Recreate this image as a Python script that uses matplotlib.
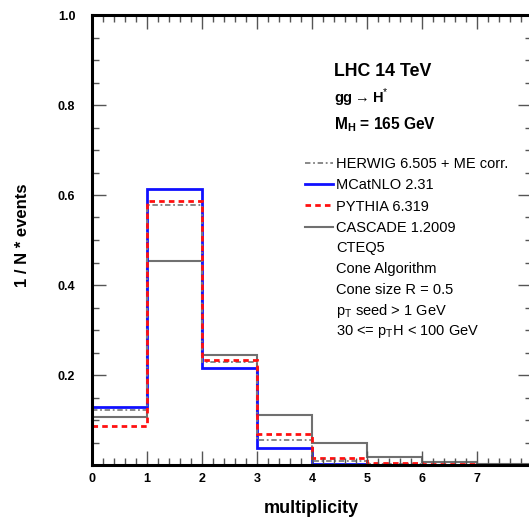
import numpy as np
import matplotlib
matplotlib.use("Agg")
import matplotlib.pyplot as plt
from matplotlib.lines import Line2D
from matplotlib.ticker import MultipleLocator

plt.rcParams['font.family'] = ['Liberation Sans', 'DejaVu Sans']
plt.rcParams['mathtext.fontset'] = 'custom'
plt.rcParams['mathtext.rm'] = 'Liberation Sans'
plt.rcParams['mathtext.bf'] = 'Liberation Sans:bold'

# jet multiplicity bins
edges = np.arange(0, 9)
herwig = [0.122, 0.577, 0.228, 0.056, 0.009, 0.003, 0.001, 0.0005]
mcatnlo = [0.130, 0.613, 0.215, 0.037, 0.002, 0.001, 0.0005, 0.0003]
pythia = [0.087, 0.587, 0.233, 0.068, 0.016, 0.004, 0.002, 0.001]
cascade = [0.107, 0.454, 0.244, 0.111, 0.048, 0.018, 0.007, 0.002]

labels = ['HERWIG 6.505 + ME corr.', 'MCatNLO 2.31', 'PYTHIA 6.319', 'CASCADE 1.2009']
notes = ['CTEQ5', 'Cone Algorithm', 'Cone size R = 0.5',
         r'p$_\mathregular{T}$ seed > 1 GeV',
         r'30 <= p$_\mathregular{T}$H < 100 GeV']

W, H = 529, 522
fig = plt.figure(figsize=(W / 100, H / 100), dpi=100)
ax = fig.add_axes([92 / W, 57 / H, 440 / W, 450 / H])

styles = [
    dict(color='#707070', lw=1.5, ls='-'),                 # cascade
    dict(color='#1010ff', lw=2.0, ls='-'),                 # mcatnlo
    dict(color='#808080', lw=1.3, ls=(0, (3, 1.5, 1, 1.5))),  # herwig
    dict(color='#ff1010', lw=2.0, ls=(0, (2, 1.5))),       # pythia
]
for vals, st in zip([cascade, mcatnlo, herwig, pythia], styles):
    ax.stairs(vals, edges, baseline=None, **st)

ax.set_xlim(0, 8)
ax.set_ylim(0, 1.0)
ax.xaxis.set_major_locator(MultipleLocator(1))
ax.xaxis.set_minor_locator(MultipleLocator(0.2))
ax.yaxis.set_major_locator(MultipleLocator(0.2))
ax.yaxis.set_minor_locator(MultipleLocator(0.05))
ax.set_yticks([0.2, 0.4, 0.6, 0.8, 1.0])
ax.tick_params(which='both', direction='in', top=True, right=True,
               color='#555555', width=1.0)
ax.tick_params(which='major', length=10)
ax.tick_params(which='minor', length=5)
ax.tick_params(axis='y', pad=12)
ax.tick_params(axis='x', pad=6)
for lab in ax.get_xticklabels() + ax.get_yticklabels():
    lab.set_fontweight('bold')
    lab.set_fontsize(9)
for sp in ax.spines.values():
    sp.set_linewidth(2.2)

ax.set_xlabel('multiplicity', fontsize=13, fontweight='bold')
ax.xaxis.set_label_coords(219 / 440, -35 / 450)
ax.set_ylabel('1 / N * events', fontsize=12, fontweight='bold')
ax.yaxis.set_label_coords(-62 / 440, 0.51)

# header text
fig.text(334 / W, 1 - 72 / H, 'LHC 14 TeV', fontsize=12.8, fontweight='bold', va='center')
fig.text(334 / W, 1 - 98 / H, r'gg$\rightarrow$H$^{*}$', fontsize=10.5, fontweight='bold', va='center')
fig.text(334 / W, 1 - 125 / H, r'M$_\mathbf{H}$ = 165 GeV', fontsize=11.2, fontweight='bold', va='center')

handles = [Line2D([], [], **styles[2]), Line2D([], [], **styles[1]),
           Line2D([], [], **styles[3]), Line2D([], [], **styles[0])]
fig.legend(handles, labels, loc='upper left',
           bbox_to_anchor=(305 / W, 1 - 157 / H), frameon=False,
           fontsize=10.5, handlelength=1.9, handletextpad=0.2,
           labelspacing=0.5, borderaxespad=0, borderpad=0)

for i, t in enumerate(notes):
    fig.text(336 / W, 1 - (248 + 21 * i) / H, t, fontsize=10.5, va='center')

fig.savefig('out.png', dpi=100)
